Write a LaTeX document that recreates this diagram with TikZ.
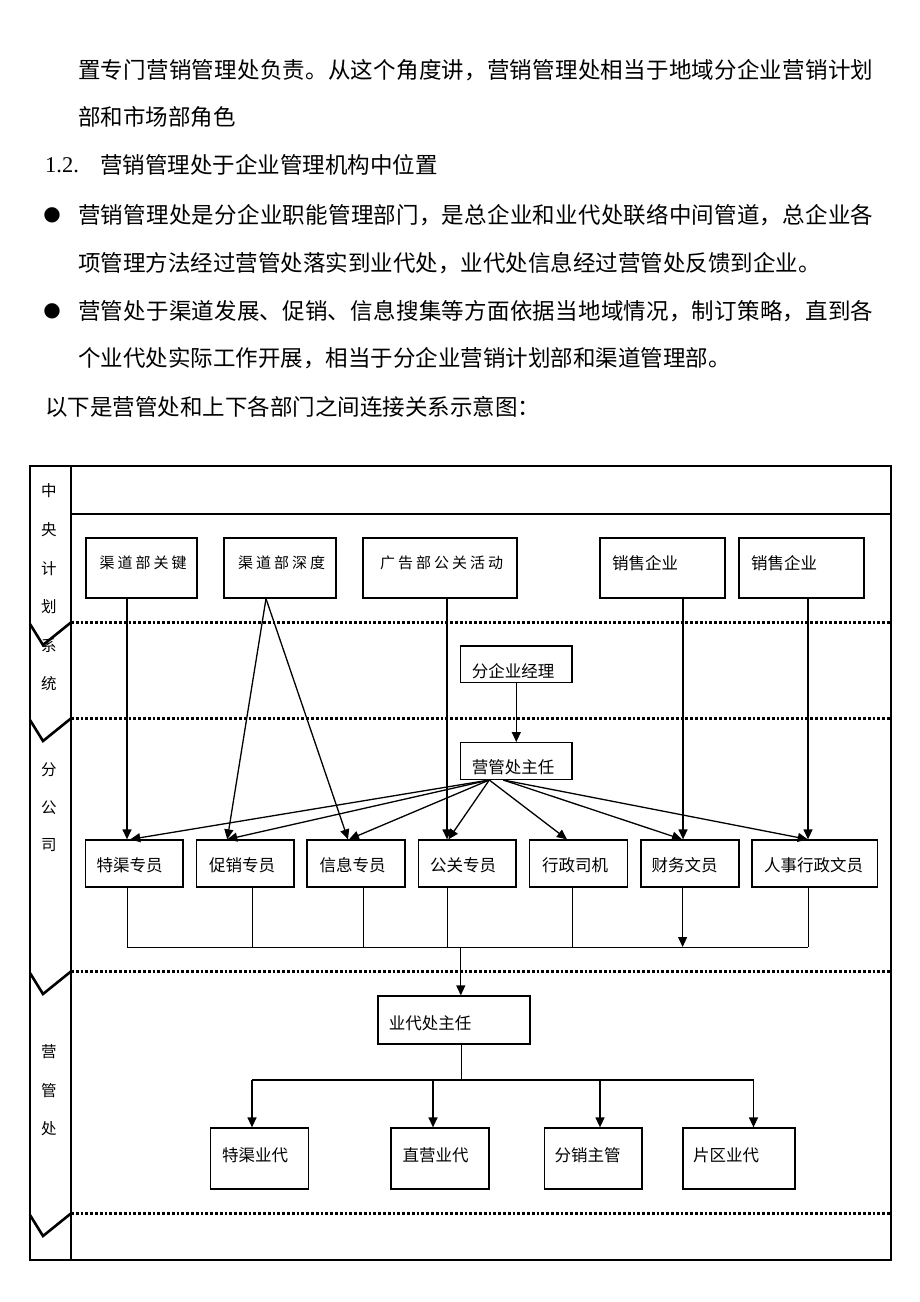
\documentclass[tikz,border=0pt]{standalone}
\usepackage{fontspec}
\setmainfont{Liberation Serif}
\newfontfamily\cjk{Noto Sans CJK SC}
\newfontfamily\cjksp[LetterSpace=20]{Noto Sans CJK SC}
\newfontfamily\dvs{DejaVu Sans}
\XeTeXlinebreaklocale "zh"
\XeTeXlinebreakskip=0pt plus 4pt
\usetikzlibrary{arrows.meta}
\begin{document}
\begin{tikzpicture}[x=1pt,y=-1pt,
  bx/.style 2 args={draw,line width=1.3pt,inner sep=0,minimum width=#1pt,minimum height=#2pt},
  tx/.style={inner sep=0,font=\cjk\fontsize{16.5}{18}\selectfont},
  sp/.style={inner sep=0,font=\cjksp\fontsize{15}{17}\selectfont},
  side/.style={inner sep=0,font=\cjk\fontsize{15.5}{17}\selectfont},
  body/.style={anchor=west,inner sep=0,font=\cjk\fontsize{22.5}{27}\selectfont},
  bodyj/.style={body,text width=798pt,execute at begin node={\noindent\parfillskip=0pt\relax}},
  dot/.style={inner sep=0,font=\dvs\fontsize{20}{24}\selectfont},
  tip/.style={-{Triangle[length=10pt,width=9pt]}},
  arr/.style={line width=1.3pt,tip},
  ln/.style={line width=1pt},
  dots/.style={line width=3pt,dash pattern=on 2.8pt off 2pt},
  vee/.style={line width=2.6pt,line join=miter},
  frame/.style={line width=1.2pt}]
\useasboundingbox (0,0) rectangle (920,1302);

% ---------- body text ----------
\node[bodyj] (l1) at (78,70) {置专门营销管理处负责。从这个角度讲，营销管理处相当于地域分企业营销计划};
\node[body] (l2) at (78,117) {部和市场部角色};
\node[body,font=\fontsize{22.5}{27}\selectfont] (l3a) at (45,165) {1.2.};
\node[body] (l3) at (100,165) {营销管理处于企业管理机构中位置};
\node[dot] (d1) at (52,215) {●};
\node[bodyj] (l4) at (78,215) {营销管理处是分企业职能管理部门，是总企业和业代处联络中间管道，总企业各};
\node[body] (l5) at (78,263) {项管理方法经过营管处落实到业代处，业代处信息经过营管处反馈到企业。};
\node[dot] (d2) at (52,311) {●};
\node[bodyj] (l6) at (78,311) {营管处于渠道发展、促销、信息搜集等方面依据当地域情况，制订策略，直到各};
\node[body] (l7) at (78,358) {个业代处实际工作开展，相当于分企业营销计划部和渠道管理部。};
\node[body] (l8) at (45,407) {以下是营管处和上下各部门之间连接关系示意图：};

% ---------- frame ----------
\draw[frame] (30,466) rectangle (891,1260);
\draw[frame] (71,466) -- (71,1260);
\draw[frame] (71,514) -- (891,514);
\foreach \yy in {622,718,971,1213}{
  \draw[dots] (71,\yy) -- (891,\yy);
  \draw[vee] (30,\yy+2) -- (43,\yy+23) -- (71.5,\yy);
}

% ---------- side labels ----------
\node[side] (s1) at (49,491) {中};
\node[side] (s2) at (49,530) {央};
\node[side] (s3) at (49,569) {计};
\node[side] (s4) at (49,607) {划};
\node[side] (s5) at (49,646) {系};
\node[side] (s6) at (49,684) {统};
\node[side] (s7) at (49,770) {分};
\node[side] (s8) at (49,808) {公};
\node[side] (s9) at (49,845) {司};
\node[side] (s10) at (49,1052) {营};
\node[side] (s11) at (49,1091) {管};
\node[side] (s12) at (49,1129) {处};

% ---------- top row ----------
\node[bx={111}{60}] (k1) at (141.5,568) {};
\node[bx={112}{60}] (k2) at (280,568) {};
\node[bx={154}{60}] (k3) at (440,568) {};
\node[bx={125}{60}] (k4) at (662.5,568) {};
\node[bx={125}{60}] (k5) at (801.5,568) {};
\node[sp] (tk1) at (143,563) {渠道部关键};
\node[sp] (tk2) at (281.5,563) {渠道部深度};
\node[sp] (tk3) at (441.5,563) {广告部公关活动};
\node[tx] (tk4) at (645,563) {销售企业};
\node[tx] (tk5) at (784,563) {销售企业};

% ---------- middle ----------
\node[bx={111.3}{36.7}] (m1) at (516.3,664.3) {};
\node[tx] (tm1) at (513,671) {分企业经理};
\node[bx={111.3}{36.7}] (m2) at (516.3,761) {};
\node[tx] (tm2) at (513,767) {营管处主任};

% ---------- staff row ----------
\node[bx={97.5}{47}] (b1) at (134.25,863.5) {};
\node[bx={97.5}{47}] (b2) at (245.25,863.5) {};
\node[bx={98}{47}] (b3) at (356,863.5) {};
\node[bx={97.3}{47}] (b4) at (467.4,863.5) {};
\node[bx={98}{47}] (b5) at (578.5,863.5) {};
\node[bx={98}{47}] (b6) at (690,863.5) {};
\node[bx={125.5}{47}] (b7) at (814.75,863.5) {};
\node[tx] (tb1) at (129.5,865) {特渠专员};
\node[tx] (tb2) at (242,865) {促销专员};
\node[tx] (tb3) at (352.7,865) {信息专员};
\node[tx] (tb4) at (463,865) {公关专员};
\node[tx] (tb5) at (575,865) {行政司机};
\node[tx] (tb6) at (684.6,865) {财务文员};
\node[tx] (tb7) at (813.6,865) {人事行政文员};

% ---------- agency ----------
\node[bx={152}{48}] (y1) at (454,1020) {};
\node[tx] (ty1) at (430,1023) {业代处主任};
\node[bx={98}{61}] (z1) at (259.6,1158.5) {};
\node[bx={98}{61}] (z2) at (440,1158.5) {};
\node[bx={97.5}{61}] (z3) at (593.25,1158.5) {};
\node[bx={112}{61}] (z4) at (739,1158.5) {};
\node[tx] (tz1) at (255,1155) {特渠业代};
\node[tx] (tz2) at (435.7,1155) {直营业代};
\node[tx] (tz3) at (587.5,1155) {分销主管};
\node[tx] (tz4) at (726,1155) {片区业代};

% ---------- connectors: top row down ----------
\coordinate (k1o) at ([xshift=-14.5pt]k1.south);
\draw[arr] (k1o) -- (k1o |- b1.north);
\coordinate (k2o) at ([xshift=-14pt]k2.south);
\draw[arr] (k2o) -- ([xshift=-18pt]b2.north);
\draw[arr] (k2o) -- ([xshift=-8pt]b3.north);
\coordinate (k3o) at ([xshift=7pt]k3.south);
\draw[arr] (k3o) -- (k3o |- b4.north);
\coordinate (k4o) at ([xshift=20.5pt]k4.south);
\draw[arr] (k4o) -- (k4o |- b6.north);
\coordinate (k5o) at ([xshift=6.5pt]k5.south);
\draw[arr] (k5o) -- (k5o |- b7.north);

\draw[arr] (m1.south) -- (m2.north);

\coordinate (f1) at ([xshift=-27pt]m2.south);
\coordinate (f2) at ([xshift=-13pt]m2.south);
\draw[arr] (f1) -- ([xshift=-4pt]b1.north);
\draw[arr] (f1) -- ([xshift=-18pt]b2.north);
\draw[arr] (f1) -- ([xshift=-7pt]b3.north);
\draw[arr] (f1) -- ([xshift=-19pt]b4.north);
\draw[arr] (f1) -- ([xshift=-11.5pt]b5.north);
\draw[arr] (f2) -- ([xshift=-8pt]b6.north);
\draw[arr] (f2) -- ([xshift=-7pt]b7.north);

% ---------- bus ----------
\coordinate (busL) at (127,947);
\coordinate (busR) at (808,947);
\draw[ln] (busL) -- (busR);
\coordinate (c1) at ([xshift=-7.25pt]b1.south);
\coordinate (c2) at ([xshift=6.75pt]b2.south);
\coordinate (c3) at ([xshift=7.5pt]b3.south);
\coordinate (c4) at ([xshift=-20.4pt]b4.south);
\coordinate (c5) at ([xshift=-6.5pt]b5.south);
\coordinate (c6) at ([xshift=-7.4pt]b6.south);
\coordinate (c7) at ([xshift=-6.75pt]b7.south);
\foreach \c in {c1,c2,c3,c4,c5,c7}{\draw[ln] (\c) -- (\c |- busL);}
\draw[ln,tip] (c6) -- (c6 |- busL);
\coordinate (yo) at ([xshift=6.8pt]y1.north);
\draw[arr] (yo |- busL) -- (yo);

% ---------- lower tree ----------
\coordinate (yd) at ([xshift=7pt]y1.south);
\coordinate (tL) at (252,1080);
\coordinate (tR) at (753.5,1080);
\draw[ln] (yd) -- (yd |- tL);
\draw[line width=1.3pt] (tL) -- (tR);
\coordinate (z1o) at ([xshift=-7.6pt]z1.north);
\coordinate (z2o) at ([xshift=-7pt]z2.north);
\coordinate (z3o) at ([xshift=6.75pt]z3.north);
\coordinate (z4o) at ([xshift=14.5pt]z4.north);
\foreach \z in {z1o,z2o,z3o,z4o}{\draw[arr] (\z |- tL) -- (\z);}
\end{tikzpicture}
\end{document}
